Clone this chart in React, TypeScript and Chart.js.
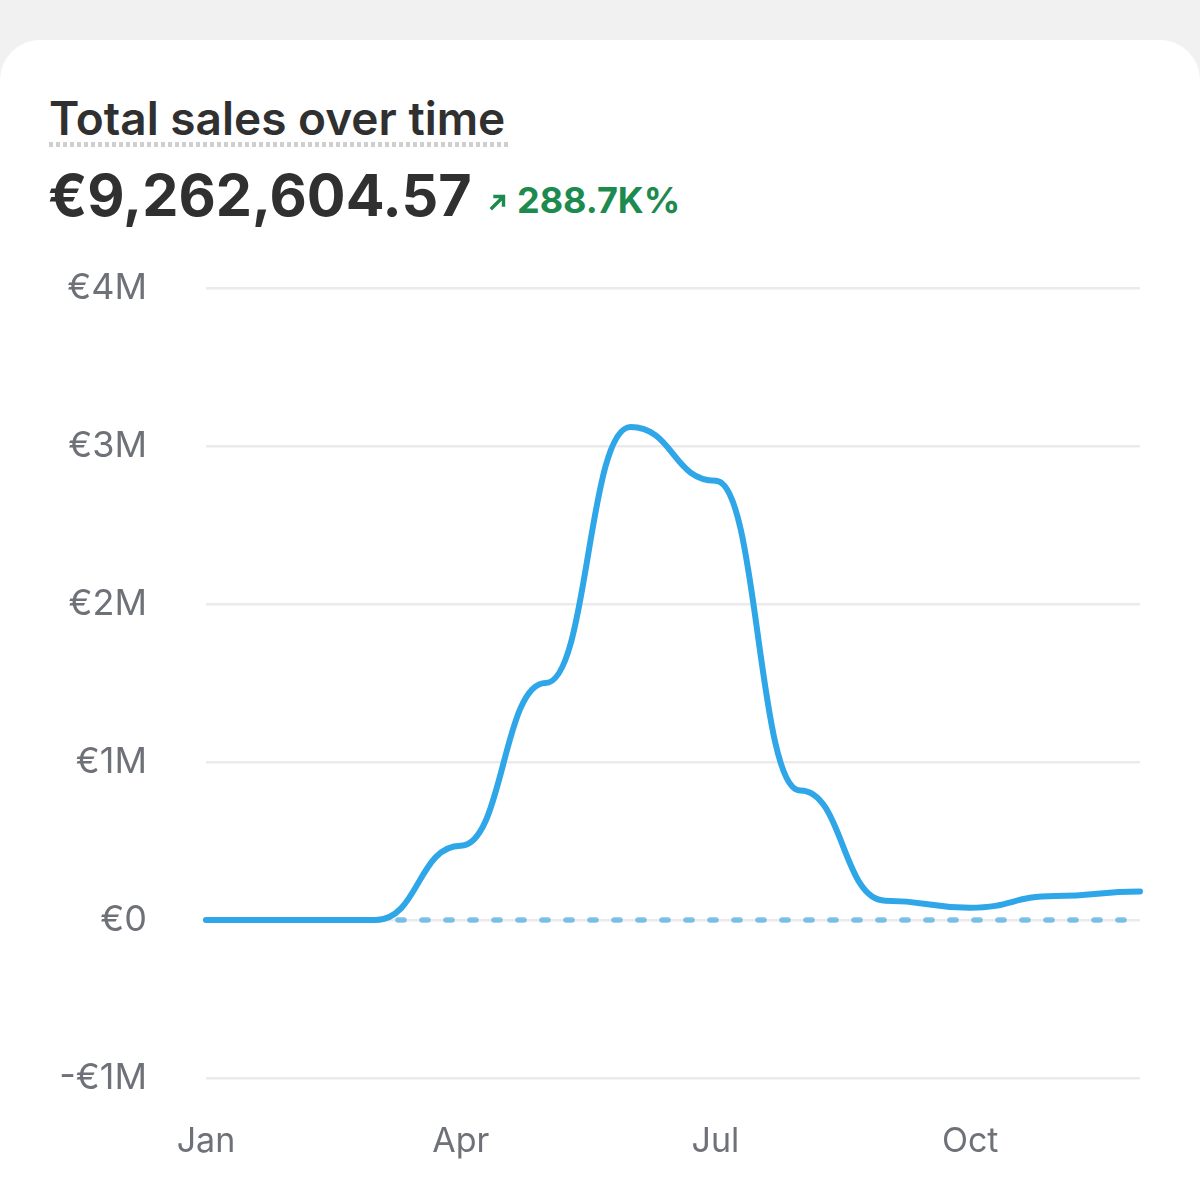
import React, { useEffect, useRef } from 'react';
import { Chart, registerables } from 'chart.js';

Chart.register(...registerables);

const months = ['Jan', 'Feb', 'Mar', 'Apr', 'May', 'Jun', 'Jul', 'Aug', 'Sep', 'Oct', 'Nov', 'Dec'];
const tickLabels = ['Jan', 'Apr', 'Jul', 'Oct'];
const sales = [0, 0, 0, 470000, 1500000, 3120000, 2780000, 820000, 122000, 78000, 152000, 180000];
const previousSales = [0, 0, 0, 0, 0, 0, 0, 0, 0, 0, 0, 0];
const yMin = -1000000;
const yMax = 4000000;
const yStep = 1000000;

const title = 'Total sales over time';
const totalValue = '€9,262,604.57';
const changeValue = '288.7K%';

const LINE_COLOR = '#2fa6e8';
const DASH_COLOR = 'rgba(60,163,222,0.65)';
const AXIS_COLOR = '#6e7177';
const K = 0.5;

const fmtMoney = (v: number) => {
  if (v === 0) return '€0';
  const sign = v < 0 ? '-' : '';
  return sign + '€' + Math.abs(v) / 1000000 + 'M';
};

const bumpPlugin = {
  id: 'bumpCurve',
  beforeDatasetDraw(chart: any, args: any) {
    const meta = args.meta;
    const line = meta.dataset;
    if (!line || !line.options || !line.options.tension) return;
    const pts = meta.data;
    for (let i = 0; i < pts.length; i++) {
      const p = pts[i];
      const prev = pts[i - 1];
      const next = pts[i + 1];
      p.cp1x = prev ? p.x - (p.x - prev.x) * K : p.x;
      p.cp1y = p.y;
      p.cp2x = next ? p.x + (next.x - p.x) * K : p.x;
      p.cp2y = p.y;
    }
    line._pointsUpdated = true;
    line._path = undefined;
  },
};

export default function App() {
  const ref = useRef<HTMLCanvasElement>(null);

  useEffect(() => {
    const chart = new Chart(ref.current as HTMLCanvasElement, {
      type: 'line',
      data: {
        labels: months,
        datasets: [
          {
            label: 'Total sales',
            data: sales,
            borderColor: LINE_COLOR,
            borderWidth: 6,
            pointRadius: 0,
            tension: 0.4,
            fill: false,
            borderCapStyle: 'round',
            borderJoinStyle: 'round',
          },
          {
            label: 'Previous period',
            data: previousSales,
            borderColor: DASH_COLOR,
            borderWidth: 5.5,
            borderDash: [6, 18],
            borderCapStyle: 'round',
            pointRadius: 0,
            tension: 0,
            fill: false,
          },
        ],
      },
      options: {
        responsive: false,
        animation: false,
        devicePixelRatio: 1,
        layout: { padding: { top: 288, right: 60, bottom: 7, left: 0 } },
        plugins: { legend: { display: false }, tooltip: { enabled: false } },
        scales: {
          x: {
            grid: { display: false, drawTicks: false },
            border: { display: false },
            ticks: {
              autoSkip: false,
              maxRotation: 0,
              padding: 43,
              color: AXIS_COLOR,
              font: { family: 'Inter', size: 34, lineHeight: 1.2 },
              callback: (_v: any, i: number) => (tickLabels.includes(months[i]) ? months[i] : ''),
            },
            afterFit: (s: any) => {
              s.height = 100;
            },
          },
          y: {
            min: yMin,
            max: yMax,
            ticks: {
              stepSize: yStep,
              padding: 59,
              color: AXIS_COLOR,
              font: { family: 'Inter', size: 36 },
              callback: (v: any) => fmtMoney(Number(v)),
            },
            grid: { color: '#ebebee', lineWidth: 2.5, drawTicks: false },
            border: { display: false },
            afterFit: (s: any) => {
              s.width = 206;
            },
          },
        },
      } as any,
      plugins: [bumpPlugin as any],
    });
    return () => chart.destroy();
  }, []);

  return (
    <div
      style={{
        position: 'absolute',
        left: 0,
        top: 0,
        width: 1200,
        height: 1185,
        background: '#f1f1f1',
        overflow: 'hidden',
        fontFamily: 'Inter, sans-serif',
      }}
    >
      <div
        style={{
          position: 'absolute',
          left: 0,
          top: 40,
          width: 1200,
          height: 1200,
          background: '#ffffff',
          borderRadius: 40,
        }}
      />
      <div
        style={{
          position: 'absolute',
          left: 49,
          top: 95,
          fontSize: 46,
          lineHeight: '46px',
          fontWeight: 600,
          color: '#303030',
          whiteSpace: 'nowrap',
        }}
      >
        <span style={{ position: 'relative', display: 'inline-block' }}>
          {title}
          <span
            style={{
              position: 'absolute',
              left: 0,
              right: -3,
              top: 47,
              height: 5,
              backgroundImage: 'repeating-linear-gradient(to right, #cfcfcf 0 4px, transparent 4px 7px)',
            }}
          />
        </span>
      </div>
      <div
        style={{
          position: 'absolute',
          left: 48,
          top: 167,
          fontSize: 57.5,
          lineHeight: '57.5px',
          fontWeight: 700,
          color: '#303030',
          whiteSpace: 'nowrap',
        }}
      >
        {totalValue}
      </div>
      <svg
        style={{ position: 'absolute', left: 489, top: 193 }}
        width={18}
        height={18}
        viewBox="0 0 18 18"
      >
        <path d="M3 15 L14 4 M6 3.5 H14.5 V12" stroke="#1d8a4f" strokeWidth={3.4} fill="none" strokeLinecap="square" />
      </svg>
      <div
        style={{
          position: 'absolute',
          left: 517,
          top: 182,
          fontSize: 36,
          lineHeight: '36px',
          fontWeight: 700,
          color: '#1d8a4f',
          whiteSpace: 'nowrap',
        }}
      >
        {changeValue}
      </div>
      <canvas
        ref={ref}
        width={1200}
        height={1185}
        style={{ position: 'absolute', left: 0, top: 0, width: 1200, height: 1185 }}
      />
    </div>
  );
}
